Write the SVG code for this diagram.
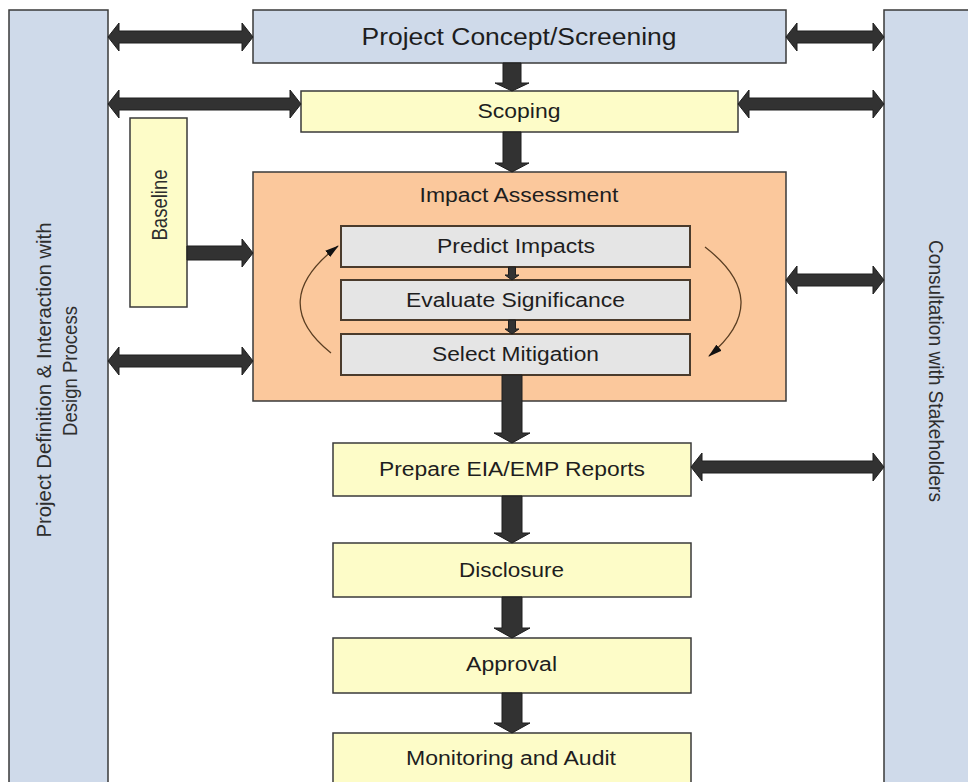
<svg xmlns="http://www.w3.org/2000/svg" width="968" height="782" viewBox="0 0 968 782">
<style>
.blue{fill:#cfdaea;stroke:#3a3a3a;stroke-width:1.5}
.yel{fill:#fdfcc8;stroke:#3a3a3a;stroke-width:1.5}
.peach{fill:#fbc89c;stroke:#3a3a3a;stroke-width:1.5}
.grey{fill:#e5e5e5;stroke:#4a3b2c;stroke-width:2}
.t{font-family:"Liberation Sans",Arial,sans-serif;font-size:20px;fill:#1e1e1e;text-anchor:middle}
.v{font-family:"Liberation Sans",Arial,sans-serif;font-size:20px;fill:#2e2e2e;text-anchor:middle}
.arr{fill:#323232;stroke:#1e1e1e;stroke-width:1}
.curve{fill:none;stroke:#5a3e22;stroke-width:1.3}
</style>
<defs>
<marker id="tip" markerUnits="userSpaceOnUse" markerWidth="14" markerHeight="8" viewBox="0 0 14 8" refX="13" refY="4" orient="auto">
<path d="M0,0 L14,4 L0,8 z" fill="#111"/>
</marker>
</defs>
<rect width="968" height="782" fill="#ffffff"/>
<g id="left-panel">
<rect class="blue" x="9" y="10" width="99" height="790"/>
<text class="v" transform="translate(51,380) rotate(-90)" textLength="315" lengthAdjust="spacingAndGlyphs">Project Definition &amp; Interaction with</text>
<text class="v" transform="translate(77,371) rotate(-90)" textLength="130" lengthAdjust="spacingAndGlyphs">Design Process</text>
</g>
<g id="right-panel">
<rect class="blue" x="884" y="10" width="100" height="790"/>
<text class="v" transform="translate(929,371) rotate(90)" textLength="262" lengthAdjust="spacingAndGlyphs">Consultation with Stakeholders</text>
</g>
<g id="project-concept">
<rect class="blue" x="253" y="10" width="533" height="53"/>
<text class="t" x="519" y="45" style="font-size:23px" textLength="315" lengthAdjust="spacingAndGlyphs">Project Concept/Screening</text>
</g>
<g id="scoping">
<rect class="yel" x="301" y="91" width="437" height="41"/>
<text class="t" x="519" y="118" textLength="83" lengthAdjust="spacingAndGlyphs">Scoping</text>
</g>
<g id="baseline">
<rect class="yel" x="130" y="118" width="57" height="189"/>
<text class="v" transform="translate(167,205) rotate(-90)" style="font-size:22px" textLength="71" lengthAdjust="spacingAndGlyphs">Baseline</text>
</g>
<g id="impact-assessment">
<rect class="peach" x="253" y="172" width="533" height="229"/>
<text class="t" x="519" y="202" textLength="199" lengthAdjust="spacingAndGlyphs">Impact Assessment</text>
</g>
<g id="predict-impacts">
<rect class="grey" x="341" y="226" width="349" height="41"/>
<text class="t" x="516" y="253" textLength="158" lengthAdjust="spacingAndGlyphs">Predict Impacts</text>
</g>
<g id="evaluate-significance">
<rect class="grey" x="341" y="280" width="349" height="40"/>
<text class="t" x="515.5" y="307" textLength="219" lengthAdjust="spacingAndGlyphs">Evaluate Significance</text>
</g>
<g id="select-mitigation">
<rect class="grey" x="341" y="334" width="349" height="41"/>
<text class="t" x="515.5" y="361" textLength="167" lengthAdjust="spacingAndGlyphs">Select Mitigation</text>
</g>
<g id="prepare-reports">
<rect class="yel" x="333" y="443" width="358" height="53"/>
<text class="t" x="512" y="476" textLength="266" lengthAdjust="spacingAndGlyphs">Prepare EIA/EMP Reports</text>
</g>
<g id="disclosure">
<rect class="yel" x="333" y="543" width="358" height="54"/>
<text class="t" x="511.5" y="577" textLength="105" lengthAdjust="spacingAndGlyphs">Disclosure</text>
</g>
<g id="approval">
<rect class="yel" x="333" y="638" width="358" height="55"/>
<text class="t" x="511.5" y="671" textLength="91" lengthAdjust="spacingAndGlyphs">Approval</text>
</g>
<g id="monitoring-audit">
<rect class="yel" x="333" y="733" width="358" height="70"/>
<text class="t" x="511" y="765" textLength="210" lengthAdjust="spacingAndGlyphs">Monitoring and Audit</text>
</g>
<g id="connectors">
<polygon class="arr" points="108,37 119,23 119,31 242,31 242,23 253,37 242,51 242,43 119,43 119,51"/>
<polygon class="arr" points="108,104 119,90 119,98 290,98 290,90 301,104 290,118 290,110 119,110 119,118"/>
<polygon class="arr" points="786,37 797,23 797,31 873,31 873,23 884,37 873,51 873,43 797,43 797,51"/>
<polygon class="arr" points="738,104 749,90 749,98 873,98 873,90 884,104 873,118 873,110 749,110 749,118"/>
<polygon class="arr" points="187,246 242,246 242,239 253,253 242,267 242,260 187,260"/>
<polygon class="arr" points="108,361 119,347 119,355 242,355 242,347 253,361 242,375 242,367 119,367 119,375"/>
<polygon class="arr" points="786,280 797,266 797,274 873,274 873,266 884,280 873,294 873,286 797,286 797,294"/>
<polygon class="arr" points="691,467 702,453 702,461 873,461 873,453 884,467 873,481 873,473 702,473 702,481"/>
<polygon class="arr" points="503,63 521,63 521,83 529,83 512,91 495,83 503,83"/>
<polygon class="arr" points="503,132 521,132 521,163 529,163 512,172 495,163 503,163"/>
<polygon class="arr" points="502,375 522,375 522,433 530,433 512,443 494,433 502,433"/>
<polygon class="arr" points="502,496 522,496 522,533 530,533 512,543 494,533 502,533"/>
<polygon class="arr" points="502,597 522,597 522,628 530,628 512,638 494,628 502,628"/>
<polygon class="arr" points="502,693 522,693 522,723 530,723 512,733 494,723 502,723"/>
<polygon class="arr" points="508.5,267 515.5,267 515.5,275 519,275 512,280 505,275 508.5,275"/>
<polygon class="arr" points="508.5,320 515.5,320 515.5,329 519,329 512,334 505,329 508.5,329"/>
<path class="curve" d="M331,353 Q266,301 338,246" marker-end="url(#tip)"/>
<path class="curve" d="M705,247 Q775,301 709,356" marker-end="url(#tip)"/>
</g>
</svg>
